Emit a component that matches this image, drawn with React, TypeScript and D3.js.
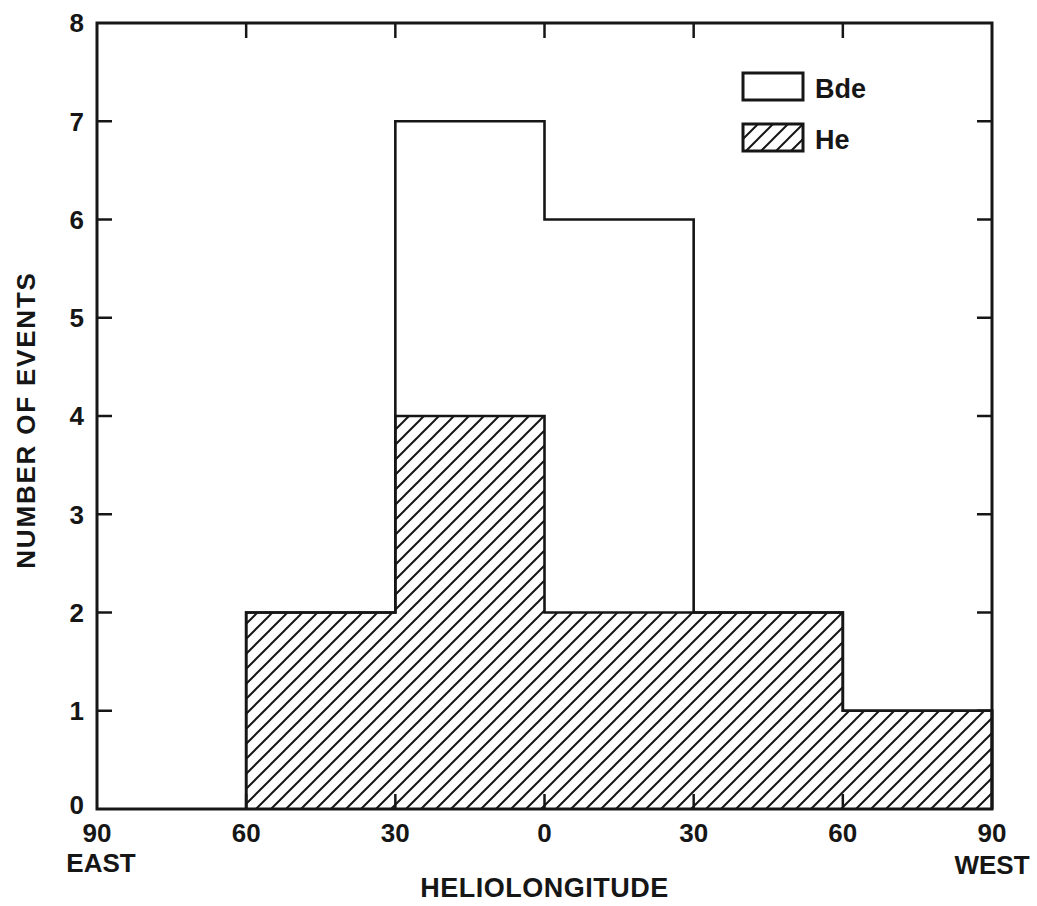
import { useEffect, useRef } from "react";
import * as d3 from "d3";

// bin edges in heliolongitude (east negative, west positive)
const binEdges = [-90, -60, -30, 0, 30, 60, 90];
const bdeCounts = [0, 2, 7, 6, 2, 1];
const heCounts = [0, 2, 4, 2, 2, 1];

const xTickValues = [-90, -60, -30, 0, 30, 60, 90];
const xTickLabels = ["90", "60", "30", "0", "30", "60", "90"];
const yTickValues = [0, 1, 2, 3, 4, 5, 6, 7, 8];

const legendItems = [
  { name: "Bde", hatched: false },
  { name: "He", hatched: true },
];

const FONT = "'Liberation Sans', Arial, Helvetica, sans-serif";
const INK = "#161616";

function stepPoints(counts: number[]) {
  const pts: [number, number][] = [];
  const first = counts.findIndex((c) => c > 0);
  pts.push([binEdges[first], 0]);
  for (let i = first; i < counts.length; i++) {
    pts.push([binEdges[i], counts[i]]);
    pts.push([binEdges[i + 1], counts[i]]);
  }
  pts.push([binEdges[binEdges.length - 1], 0]);
  return pts;
}

export default function App() {
  const ref = useRef<SVGSVGElement | null>(null);

  useEffect(() => {
    if (!ref.current) return;
    const svg = d3.select(ref.current);
    svg.selectAll("*").remove();

    const width = 1037;
    const height = 906;
    const m = { top: 23, right: 45, bottom: 97, left: 97 };

    const x = d3.scaleLinear().domain([-90, 90]).range([m.left, width - m.right]);
    const y = d3.scaleLinear().domain([0, 8]).range([height - m.bottom, m.top]);

    const defs = svg.append("defs");
    defs
      .append("pattern")
      .attr("id", "hatch")
      .attr("patternUnits", "userSpaceOnUse")
      .attr("width", 15)
      .attr("height", 15)
      .append("path")
      .attr("d", "M-3,3 L3,-3 M0,15 L15,0 M12,18 L18,12")
      .attr("stroke", INK)
      .attr("stroke-width", 2);

    svg.append("rect").attr("width", width).attr("height", height).attr("fill", "#fff");

    const line = d3
      .line<[number, number]>()
      .x((d) => x(d[0]))
      .y((d) => y(d[1]));

    const hePts = stepPoints(heCounts);
    const bdePts = stepPoints(bdeCounts);

    // hatched He area
    svg
      .append("path")
      .attr("d", line(hePts) + "Z")
      .attr("fill", "url(#hatch)");

    // ticks (inward)
    const tickLen = 15;
    const g = svg.append("g").attr("stroke", INK).attr("stroke-width", 2.5);
    yTickValues.slice(1, -1).forEach((v) => {
      g.append("line").attr("x1", x(-90)).attr("x2", x(-90) + tickLen).attr("y1", y(v)).attr("y2", y(v));
      g.append("line").attr("x1", x(90)).attr("x2", x(90) - tickLen).attr("y1", y(v)).attr("y2", y(v));
    });
    xTickValues.slice(1, -1).forEach((v) => {
      g.append("line").attr("x1", x(v)).attr("x2", x(v)).attr("y1", y(8)).attr("y2", y(8) + tickLen);
      g.append("line").attr("x1", x(v)).attr("x2", x(v)).attr("y1", y(0)).attr("y2", y(0) - tickLen);
    });

    // histogram outlines
    [bdePts, hePts].forEach((pts) => {
      svg
        .append("path")
        .attr("d", line(pts))
        .attr("fill", "none")
        .attr("stroke", INK)
        .attr("stroke-width", 2.6)
        .attr("stroke-linejoin", "miter");
    });

    // frame
    svg
      .append("rect")
      .attr("x", x(-90))
      .attr("y", y(8))
      .attr("width", x(90) - x(-90))
      .attr("height", y(0) - y(8))
      .attr("fill", "none")
      .attr("stroke", INK)
      .attr("stroke-width", 3);

    const text = svg
      .append("g")
      .attr("font-family", FONT)
      .attr("font-weight", "bold")
      .attr("fill", INK);

    // y tick labels
    yTickValues.forEach((v) => {
      text
        .append("text")
        .attr("x", x(-90) - 13)
        .attr("y", y(v))
        .attr("dy", v === 0 ? "0.2em" : "0.36em")
        .attr("text-anchor", "end")
        .attr("font-size", 26)
        .text(String(v));
    });

    // x tick labels
    xTickValues.forEach((v, i) => {
      text
        .append("text")
        .attr("x", x(v))
        .attr("y", y(0) + 33)
        .attr("text-anchor", "middle")
        .attr("font-size", 26)
        .text(xTickLabels[i]);
    });
    text
      .append("text")
      .attr("x", x(-90) + 4)
      .attr("y", y(0) + 63)
      .attr("text-anchor", "middle")
      .attr("font-size", 26)
      .text("EAST");
    text
      .append("text")
      .attr("x", x(90))
      .attr("y", y(0) + 65)
      .attr("text-anchor", "middle")
      .attr("font-size", 26)
      .text("WEST");

    // axis titles
    text
      .append("text")
      .attr("x", x(0))
      .attr("y", y(0) + 88)
      .attr("text-anchor", "middle")
      .attr("font-size", 27)
      .attr("letter-spacing", 0.5)
      .text("HELIOLONGITUDE");
    text
      .append("text")
      .attr("transform", `translate(35,${(y(0) + y(8)) / 2 + 4}) rotate(-90)`)
      .attr("text-anchor", "middle")
      .attr("font-size", 26)
      .attr("letter-spacing", 1.8)
      .text("NUMBER OF EVENTS");

    // legend
    const lg = svg.append("g").attr("transform", "translate(743,73)");
    legendItems.forEach((d, i) => {
      const row = lg.append("g").attr("transform", `translate(0,${i * 51})`);
      row
        .append("rect")
        .attr("width", 60)
        .attr("height", 27)
        .attr("fill", d.hatched ? "url(#hatch)" : "#fff")
        .attr("stroke", INK)
        .attr("stroke-width", 3);
      row
        .append("text")
        .attr("x", 72)
        .attr("y", 25)
        .attr("font-family", FONT)
        .attr("font-weight", "bold")
        .attr("font-size", 27)
        .attr("fill", INK)
        .text(d.name);
    });
  }, []);

  return (
    <svg
      ref={ref}
      width={1037}
      height={906}
      style={{ position: "absolute", left: 0, top: 0, display: "block" }}
    />
  );
}
